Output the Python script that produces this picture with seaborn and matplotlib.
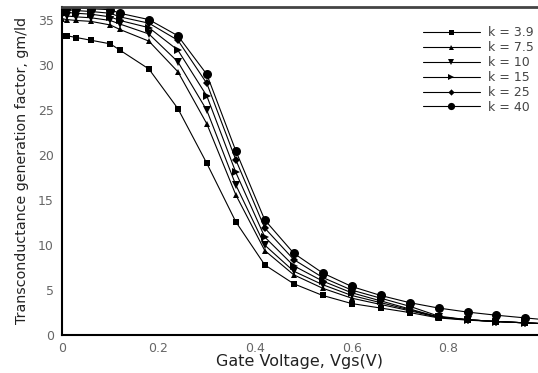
import numpy as np
import pandas as pd
import seaborn as sns
from matplotlib import pyplot as plt
from matplotlib.ticker import MultipleLocator, FuncFormatter

sns.set_style("white")
plt.rcParams["font.family"] = ["DejaVu Sans"]

# gate voltage grid (V)
vgs = [0.0, 0.01, 0.03, 0.06, 0.10, 0.12, 0.18, 0.24, 0.30, 0.36, 0.42,
       0.48, 0.54, 0.60, 0.66, 0.72, 0.78, 0.84, 0.90, 0.96, 1.02]

k_labels = ["3.9", "7.5", "10", "15", "25", "40"]

gm_k39 = [33.3, 33.3, 33.1, 32.8, 32.4, 31.7, 29.6, 25.2, 19.1, 12.6, 7.8,
          5.7, 4.4, 3.5, 3.0, 2.5, 1.9, 1.65, 1.5, 1.35, 1.2]
gm_k75 = [35.2, 35.1, 35.0, 34.9, 34.5, 34.0, 32.7, 29.3, 23.5, 15.6, 9.4,
          6.7, 5.2, 4.1, 3.4, 2.7, 1.95, 1.7, 1.5, 1.35, 1.2]
gm_k10 = [35.6, 35.5, 35.4, 35.3, 35.0, 34.6, 33.5, 30.4, 25.0, 16.7, 10.0,
          7.1, 5.6, 4.4, 3.6, 2.8, 2.0, 1.7, 1.5, 1.35, 1.2]
gm_k15 = [35.9, 35.9, 35.8, 35.7, 35.4, 35.0, 34.2, 31.7, 26.6, 18.1, 10.9,
          7.7, 6.0, 4.7, 3.8, 2.9, 2.0, 1.7, 1.5, 1.35, 1.2]
gm_k25 = [36.2, 36.2, 36.1, 36.0, 35.8, 35.4, 34.7, 32.8, 28.0, 19.5, 11.9,
          8.4, 6.4, 5.0, 4.1, 3.2, 2.1, 1.7, 1.5, 1.35, 1.2]
gm_k40 = [36.5, 36.5, 36.4, 36.3, 36.2, 35.8, 35.1, 33.3, 29.0, 20.5, 12.8,
          9.1, 6.9, 5.4, 4.4, 3.6, 3.0, 2.55, 2.2, 1.9, 1.6]

series = [gm_k39, gm_k75, gm_k10, gm_k15, gm_k25, gm_k40]
markers = ["s", "^", "v", ">", "D", "o"]
msizes = [4.5, 4.5, 5.5, 5.5, 4, 6.5]

fig = plt.figure(figsize=(5.38, 3.73), dpi=100)
ax = fig.add_axes([62 / 538, 38 / 373, 476 / 538, (335 - 7) / 373])

for lab, vals, m, ms in zip(k_labels, series, markers, msizes):
    df = pd.DataFrame({"vgs": vgs, "gm": vals})
    sns.lineplot(data=df, x="vgs", y="gm", ax=ax, color="k", lw=0.8,
                 marker=m, markersize=ms, markeredgewidth=0,
                 label=f"k = {lab}", sort=False)

ax.set_xlim(0, 0.986)
ax.set_ylim(0, 36.5)
ax.xaxis.set_major_locator(MultipleLocator(0.2))
ax.xaxis.set_minor_locator(MultipleLocator(0.05))
ax.xaxis.set_major_formatter(FuncFormatter(lambda v, p: "0" if abs(v) < 1e-9 else f"{v:.1f}"))
ax.yaxis.set_major_locator(MultipleLocator(5))
ax.yaxis.set_minor_locator(MultipleLocator(1))
ax.tick_params(which="major", direction="in", length=6, width=1,
               labelsize=9, labelcolor="#666666", colors="k")
ax.tick_params(which="minor", direction="in", length=3, width=0.8, colors="k")
ax.tick_params(axis="x", pad=5)
ax.tick_params(axis="y", pad=6)

ax.set_xlabel("Gate Voltage, Vgs(V)", fontsize=11.5, color="#222222", labelpad=-1)
ax.set_ylabel("Transconductance generation factor, gm/ld", fontsize=10.3,
              color="#222222", labelpad=6)

for s in ["left", "bottom"]:
    ax.spines[s].set_linewidth(1.5)
    ax.spines[s].set_color("k")
ax.spines["top"].set_linewidth(2)
ax.spines["top"].set_color("#444444")
ax.spines["right"].set_visible(False)

leg = ax.legend(loc="upper left", bbox_to_anchor=(0.734, 0.975), frameon=False,
                fontsize=9, handlelength=4.6, labelspacing=0.15,
                handletextpad=0.6, labelcolor="#444444", markerscale=0.8)

fig.savefig("out.png", dpi=100)
